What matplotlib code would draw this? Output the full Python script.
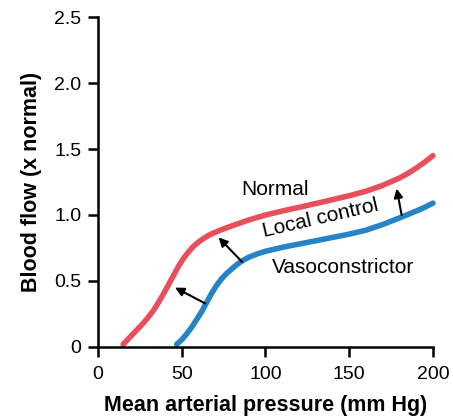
import matplotlib.pyplot as plt

plt.rcParams['font.family'] = ['Liberation Sans', 'DejaVu Sans']

# Normal curve
normal_x = [15, 18, 21, 24, 27, 30, 33, 36, 39, 42, 45, 48, 51, 54, 57, 60,
            63, 66, 69, 72, 75, 80, 85, 90, 100, 110, 120, 130, 140, 150, 160,
            170, 180, 185, 190, 195, 200]
normal_y = [0.02, 0.06, 0.10, 0.14, 0.18, 0.225, 0.275, 0.335, 0.40, 0.47,
            0.54, 0.61, 0.67, 0.72, 0.762, 0.795, 0.822, 0.845, 0.864, 0.88,
            0.895, 0.918, 0.94, 0.962, 1.0, 1.03, 1.058, 1.087, 1.116, 1.146,
            1.18, 1.225, 1.28, 1.315, 1.355, 1.40, 1.45]

# Vasoconstrictor curve
vaso_x = [47, 50, 53, 56, 59, 62, 65, 68, 71, 74, 77, 80, 83, 86, 90, 95,
          100, 105, 110, 120, 130, 140, 150, 160, 170, 180, 190, 195, 200]
vaso_y = [0.02, 0.055, 0.10, 0.15, 0.21, 0.27, 0.34, 0.41, 0.47, 0.52, 0.56,
          0.593, 0.625, 0.652, 0.68, 0.705, 0.725, 0.74, 0.755, 0.78, 0.805,
          0.83, 0.855, 0.885, 0.928, 0.978, 1.03, 1.058, 1.09]

# arrows: (tail, head)
arrows = [((64, 0.33), (46, 0.45)),
          ((86, 0.645), (72, 0.83)),
          ((181.3, 1.0), (178.3, 1.20))]

x_ticks = [0, 50, 100, 150, 200]
y_ticks = [0, 0.5, 1.0, 1.5, 2.0, 2.5]
y_tick_labels = ['0', '0.5', '1.0', '1.5', '2.0', '2.5']

red = '#E84E5C'
blue = '#2484C6'

fig = plt.figure(figsize=(4.53, 4.17), dpi=100)
ax = fig.add_axes([0.2163, 0.1679, 0.7395, 0.7913])

ax.plot(normal_x, normal_y, color=red, lw=4, solid_capstyle='round',
        solid_joinstyle='round', clip_on=False)
ax.plot(vaso_x, vaso_y, color=blue, lw=4, solid_capstyle='round',
        solid_joinstyle='round', clip_on=False)

for tail, head in arrows:
    ax.annotate('', xy=head, xytext=tail,
                arrowprops=dict(arrowstyle='-|>', color='black', lw=1.5,
                                mutation_scale=13, shrinkA=0, shrinkB=0))

ax.text(105.7, 1.19, 'Normal', fontsize=15, ha='center', va='center')
ax.text(133, 0.975, 'Local control', fontsize=15, ha='center', va='center',
        rotation=13, rotation_mode='anchor')
ax.text(146.3, 0.606, 'Vasoconstrictor', fontsize=15, ha='center', va='center')

ax.set_xlim(0, 200)
ax.set_ylim(0, 2.5)
ax.set_xticks(x_ticks)
ax.set_yticks(y_ticks)
ax.set_xticklabels([str(t) for t in x_ticks])
ax.set_yticklabels(y_tick_labels)

for s in ['top', 'right']:
    ax.spines[s].set_visible(False)
for s in ['left', 'bottom']:
    ax.spines[s].set_linewidth(1.8)
ax.tick_params(direction='out', length=7, width=1.8, labelsize=14)
ax.tick_params(axis='x', pad=7)
ax.tick_params(axis='y', pad=5)

ax.set_xlabel('Mean arterial pressure (mm Hg)', fontsize=15.5, fontweight='bold', labelpad=8)
ax.set_ylabel('Blood flow (x normal)', fontsize=15.5, fontweight='bold', labelpad=9)

fig.savefig('out.png', dpi=100)
